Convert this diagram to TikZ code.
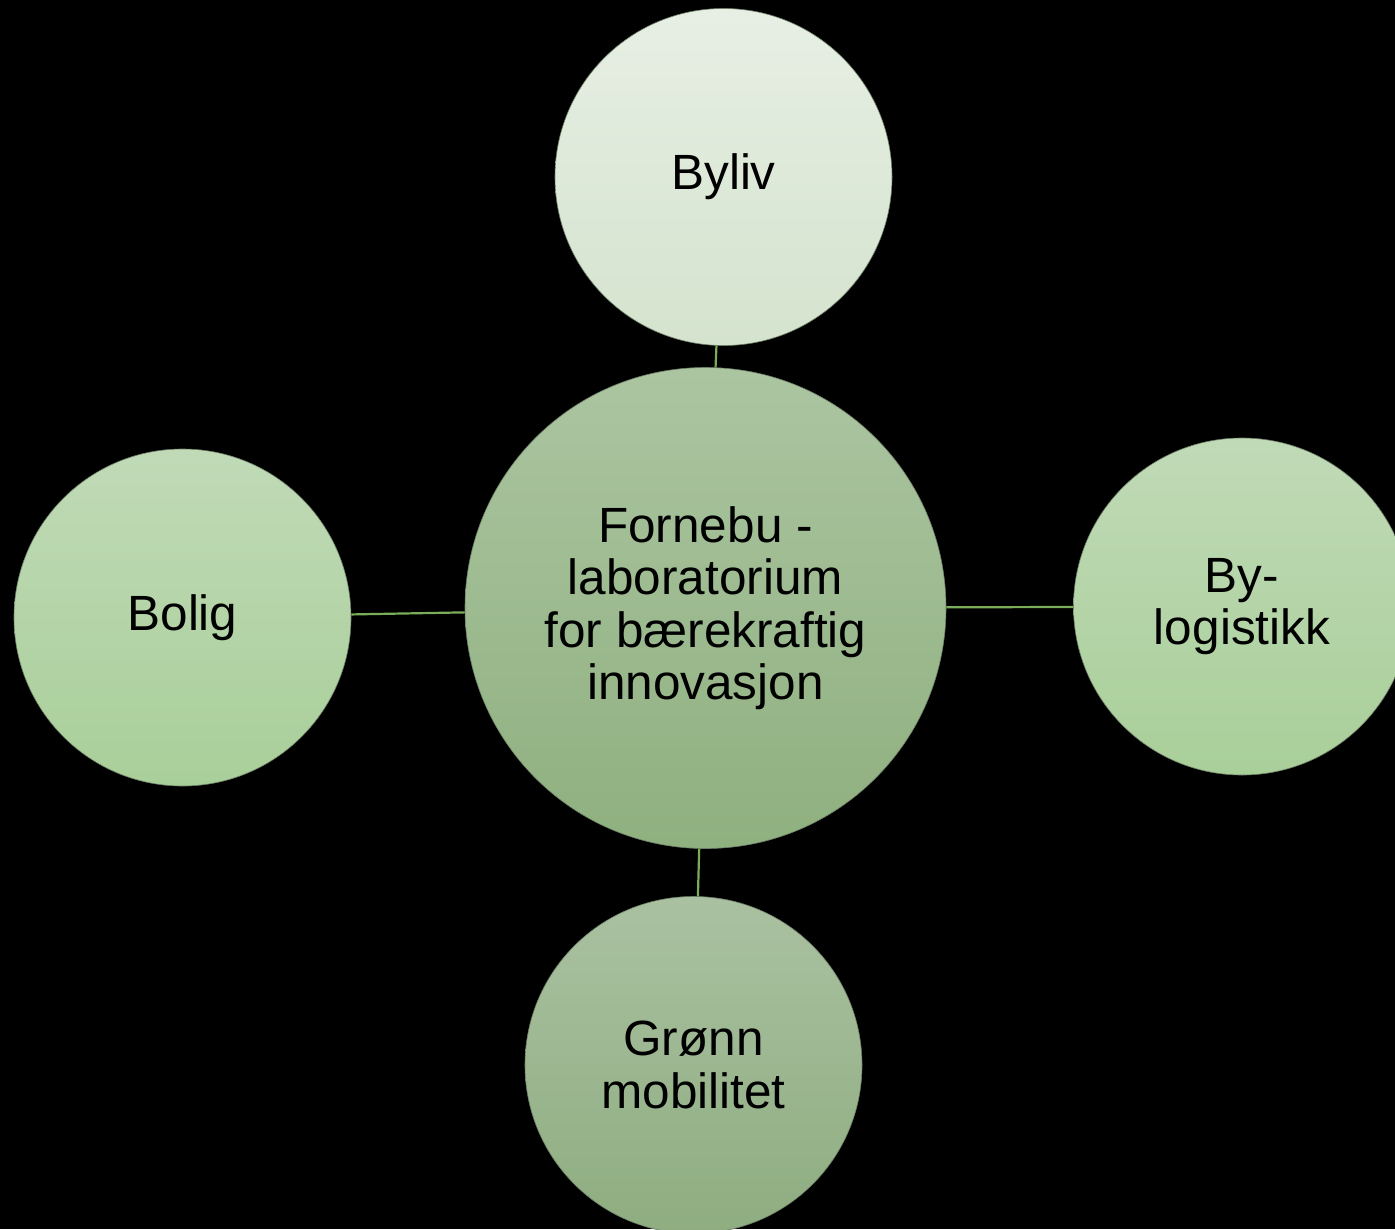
\documentclass[tikz,border=0pt]{standalone}
\usepackage{fontspec}
\setmainfont{Liberation Sans}
\definecolor{linkgreen}{HTML}{7AAD5A}
\definecolor{edgegrey}{HTML}{6E7F68}
\tikzset{
  bubble/.style={circle, inner sep=0pt, align=center, draw=edgegrey, line width=0.6pt,
    font=\fontsize{49.5}{52.5}\selectfont, text=black},
  smallbubble/.style={bubble, minimum size=337pt},
  bigbubble/.style={bubble, minimum size=481pt},
  link/.style={draw=linkgreen, line width=2.2pt}
}
\begin{document}
\begin{tikzpicture}[x=1pt,y=-1pt]
\useasboundingbox (0,0) rectangle (1395,1229);
\clip (0,0) rectangle (1395,1229);
\fill[black] (0,0) rectangle (1395,1229);

\node[smallbubble, top color={rgb,255:red,231;green,239;blue,228}, bottom color={rgb,255:red,212;green,227;blue,206}] (byliv) at (723.5,177) {Byliv};
\node[smallbubble, top color={rgb,255:red,192;green,218;blue,183}, bottom color={rgb,255:red,169;green,207;blue,153}] (bolig) at (182.5,617.5) {Bolig};
\node[smallbubble, top color={rgb,255:red,192;green,218;blue,183}, bottom color={rgb,255:red,169;green,207;blue,153}] (bylog) at (1242,606.5) {By-\\logistikk};
\node[smallbubble, top color={rgb,255:red,170;green,193;blue,161}, bottom color={rgb,255:red,142;green,173;blue,128}] (gronn) at (693.5,1065) {Grønn\\mobilitet};
\node[bigbubble, top color={rgb,255:red,171;green,197;blue,161}, bottom color={rgb,255:red,143;green,176;blue,127}] (center) at (705.5,608) {Fornebu -\\laboratorium\\for bærekraftig\\innovasjon};

\draw[link] (byliv) -- (center);
\draw[link] (bolig) -- (center);
\draw[link] (center) -- (bylog);
\draw[link] (center) -- (gronn);
\end{tikzpicture}
\end{document}
